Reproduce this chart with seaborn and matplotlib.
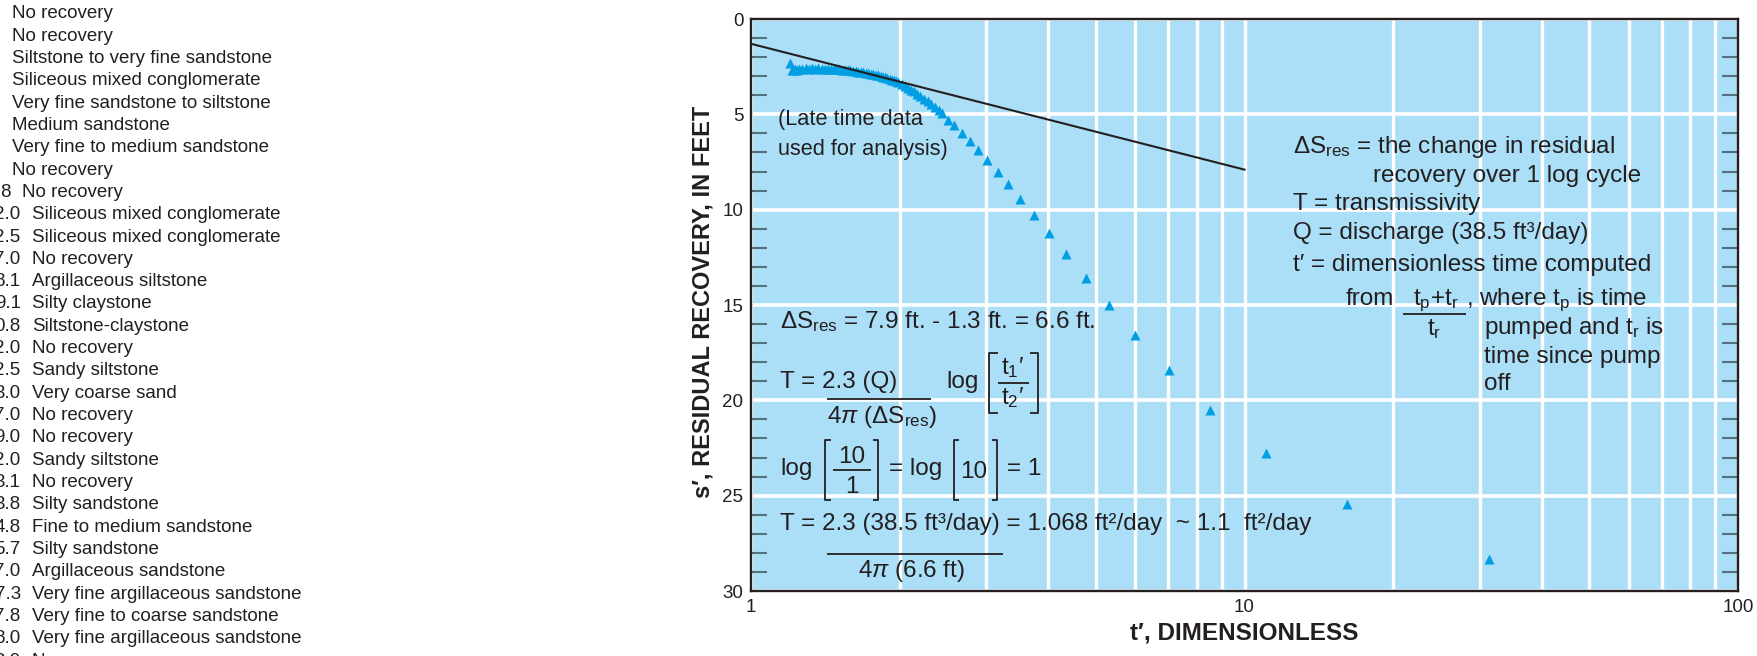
# residual recovery plot (semi-log) with the lithology log cropped on the left
import numpy as np
import pandas as pd
import seaborn as sns
import matplotlib.pyplot as plt
from matplotlib.lines import Line2D
from matplotlib.ticker import LogLocator, NullFormatter

# ---- data ----
# early, dense part of the recovery record
cluster_t = [1.20, 1.21, 1.22, 1.23, 1.24, 1.25, 1.27, 1.29, 1.31, 1.33, 1.35, 1.37,
             1.39, 1.41, 1.43, 1.45, 1.47, 1.49, 1.51, 1.53, 1.55, 1.57, 1.59, 1.61,
             1.63, 1.65, 1.67, 1.69, 1.71, 1.73, 1.75, 1.77, 1.79, 1.81, 1.83, 1.85,
             1.87, 1.89, 1.91, 1.93, 1.95, 1.97, 1.99, 2.02, 2.05, 2.08, 2.11, 2.14,
             2.17, 2.20, 2.24, 2.28, 2.32, 2.36, 2.40, 2.44]
cluster_s = [2.30, 2.65, 2.70, 2.60, 2.70, 2.60, 2.60, 2.55, 2.60, 2.55, 2.60, 2.55,
             2.60, 2.60, 2.60, 2.60, 2.62, 2.62, 2.64, 2.65, 2.66, 2.68, 2.70, 2.72,
             2.74, 2.76, 2.78, 2.80, 2.82, 2.85, 2.88, 2.90, 2.93, 2.96, 3.00, 3.03,
             3.06, 3.10, 3.14, 3.18, 3.22, 3.27, 3.32, 3.40, 3.50, 3.60, 3.70, 3.80,
             3.92, 4.03, 4.17, 4.32, 4.47, 4.62, 4.78, 4.93]
# later, spread out points
late_t = [2.51, 2.58, 2.68, 2.78, 2.89, 3.01, 3.16, 3.32, 3.51, 3.75, 4.01, 4.35,
          4.77, 5.32, 6.01, 7.03, 8.53, 11.05, 16.1, 31.3]
late_s = [5.30, 5.56, 5.96, 6.38, 6.87, 7.41, 8.00, 8.67, 9.46, 10.28, 11.24, 12.32,
          13.60, 15.00, 16.57, 18.41, 20.50, 22.78, 25.45, 28.30]
# straight line through the late time data
fit_t = [1, 10]
fit_s = [1.3, 7.9]

x_ticks = [1, 10, 100]
y_ticks = [0, 5, 10, 15, 20, 25, 30]

# lithology log, cut off at the left edge of the figure
log_numbers = ["", "", "", "", "", "", "", "", "8", "2.0", "2.5", "7.0", "8.1", "9.1",
               "0.8", "2.0", "2.5", "3.0", "7.0", "9.0", "2.0", "3.1", "3.8", "4.8",
               "5.7", "7.0", "7.3", "7.8", "8.0", "3.0"]
log_desc = ["No recovery", "No recovery", "Siltstone to very fine sandstone",
            "Siliceous mixed conglomerate", "Very fine sandstone to siltstone",
            "Medium sandstone", "Very fine to medium sandstone", "No recovery",
            "No recovery", "Siliceous mixed conglomerate", "Siliceous mixed conglomerate",
            "No recovery", "Argillaceous siltstone", "Silty claystone",
            "Siltstone-claystone", "No recovery", "Sandy siltstone", "Very coarse sand",
            "No recovery", "No recovery", "Sandy siltstone", "No recovery",
            "Silty sandstone", "Fine to medium sandstone", "Silty sandstone",
            "Argillaceous sandstone", "Very fine argillaceous sandstone",
            "Very fine to coarse sandstone", "Very fine argillaceous sandstone",
            "No recovery"]

# ---- style ----
INK = "#231f20"
BG = "#abdff7"
MARK = "#009fe3"

plt.rcParams["font.family"] = ["Liberation Sans", "DejaVu Sans"]
plt.rcParams["mathtext.fontset"] = "custom"
plt.rcParams["mathtext.rm"] = "Liberation Sans"
plt.rcParams["mathtext.it"] = "Liberation Sans:italic"
plt.rcParams["mathtext.bf"] = "Liberation Sans:bold"

W, H = 1757, 656
fig = plt.figure(figsize=(W / 100, H / 100), dpi=100)


def put(x, y, s, size=17.5, **kw):
    # x, y in pixels from the top left corner, y is the baseline
    fig.text(x / W, 1 - y / H, s, fontsize=size, color=INK, va="baseline", **kw)


def rule(xs, ys, lw=1.3):
    fig.add_artist(Line2D([x / W for x in xs], [1 - y / H for y in ys],
                          lw=lw, color=INK, solid_capstyle="butt"))


def bracket(x0, x1, y0, y1, left=True):
    if left:
        rule([x1, x0, x0, x1], [y0, y0, y1, y1])
    else:
        rule([x0, x1, x1, x0], [y0, y0, y1, y1])


# ---- lithology column ----
for i, (num, desc) in enumerate(zip(log_numbers, log_desc)):
    base = 18.2 + 22.33 * i
    if num == "":
        put(12, base, desc, size=13.5)
    elif "." not in num:
        put(10.5, base, num, size=13.5, ha="right")
        put(22, base, desc, size=13.5)
    else:
        put(20.7, base, num, size=13.5, ha="right")
        put(32, base, desc, size=13.5)

# ---- plot ----
ax = fig.add_axes([751 / W, (H - 591) / H, 987 / W, 572 / H])
ax.set_facecolor(BG)

data = pd.DataFrame({"t": cluster_t + late_t, "s": cluster_s + late_s})
sns.scatterplot(data=data, x="t", y="s", marker="^", s=52, color=MARK,
                linewidth=0, ax=ax, zorder=3)
sns.lineplot(x=fit_t, y=fit_s, color=INK, linewidth=1.5, ax=ax, zorder=4)

ax.set_xscale("log")
ax.set_xlim(1, 100)
ax.set_ylim(30, 0)
ax.set_xticks(x_ticks)
ax.set_xticklabels([str(v) for v in x_ticks])
ax.xaxis.set_minor_locator(LogLocator(base=10, subs=np.arange(2, 10)))
ax.xaxis.set_minor_formatter(NullFormatter())
ax.set_yticks(y_ticks)
ax.set_yticklabels([str(v) for v in y_ticks])
ax.set_yticks([v for v in range(1, 30) if v % 5], minor=True)

ax.set_axisbelow(True)
ax.grid(axis="x", which="both", color="white", linewidth=2.4)
ax.grid(axis="y", which="major", color="white", linewidth=2.6)

ax.tick_params(axis="x", which="both", length=0, pad=6, labelsize=13.5, labelcolor=INK)
ax.tick_params(axis="y", which="major", length=0, pad=5.5, labelsize=13.5, labelcolor=INK)
ax.tick_params(axis="y", which="minor", direction="in", length=11.5, width=1.5,
               color="#55717f", left=True, right=True)
for sp in ax.spines.values():
    sp.set_color(INK)
    sp.set_linewidth(1.7)
ax.set_xlabel("")
ax.set_ylabel("")

fig.text(703 / W, 1 - 302 / H, "s\u2032, RESIDUAL RECOVERY, IN FEET", rotation=90,
         ha="center", va="center", fontsize=17, fontweight="bold", color=INK)
fig.text(1244.5 / W, 1 - 633 / H, "t\u2032, DIMENSIONLESS", ha="center", va="center",
         fontsize=17.5, fontweight="bold", color=INK)

# ---- annotations inside the plot ----
put(778, 125.5, "(Late time data", size=15.7)
put(778, 154.5, "used for analysis)", size=15.7)

put(780, 328, r"$\Delta\mathrm{S}_{\mathrm{res}}$ = 7.9 ft. - 1.3 ft. = 6.6 ft.")

put(780, 388, "T = 2.3 (Q)")
rule([826.6, 931.4], [399.3, 399.3])
put(827, 423, r"4$\pi$ ($\Delta\mathrm{S}_{\mathrm{res}}$)")
put(946.7, 388, "log")
bracket(989.2, 997.6, 353.3, 413.3)
bracket(1030.2, 1037.8, 353.3, 413.3, left=False)
put(1013, 374, r"t$_1$$\prime$", ha="center")
rule([997.6, 1029], [382.7, 382.7])
put(1013, 404, r"t$_2$$\prime$", ha="center")

put(780, 475, "log")
bracket(824.7, 831.2, 440, 500)
put(852, 463, "10", ha="center")
rule([833, 871.4], [470, 470])
put(852, 493, "1", ha="center")
bracket(873.3, 878.2, 440, 500, left=False)
put(888.6, 475, "= log")
bracket(953.6, 959.4, 440, 500)
put(974, 478, "10", ha="center")
bracket(992, 996.9, 440, 500, left=False)
put(1007, 475, "= 1")

put(780, 530, "T = 2.3 (38.5 ft\u00b3/day) = 1.068 ft\u00b2/day  ~ 1.1  ft\u00b2/day")
rule([826.6, 1003.4], [554, 554])
put(858, 577, r"4$\pi$ (6.6 ft)")

# ---- legend of symbols on the right ----
put(1293, 153, r"$\Delta\mathrm{S}_{\mathrm{res}}$ = the change in residual")
put(1373, 182, "recovery over 1 log cycle")
put(1293, 210, "T = transmissivity")
put(1293, 239, "Q = discharge (38.5 ft\u00b3/day)")
put(1293, 271, "t\u2032 = dimensionless time computed")
put(1345.6, 305, "from")
put(1436, 305, r"t$_\mathrm{p}$+t$_\mathrm{r}$", ha="center")
rule([1403, 1466], [313.7, 313.7])
put(1434.4, 335, r"t$_\mathrm{r}$", ha="center")
put(1466, 305, r", where t$_\mathrm{p}$ is time")
put(1484, 334, r"pumped and t$_\mathrm{r}$ is")
put(1484, 363, "time since pump")
put(1484, 390, "off")

fig.savefig("out.png", dpi=100)
